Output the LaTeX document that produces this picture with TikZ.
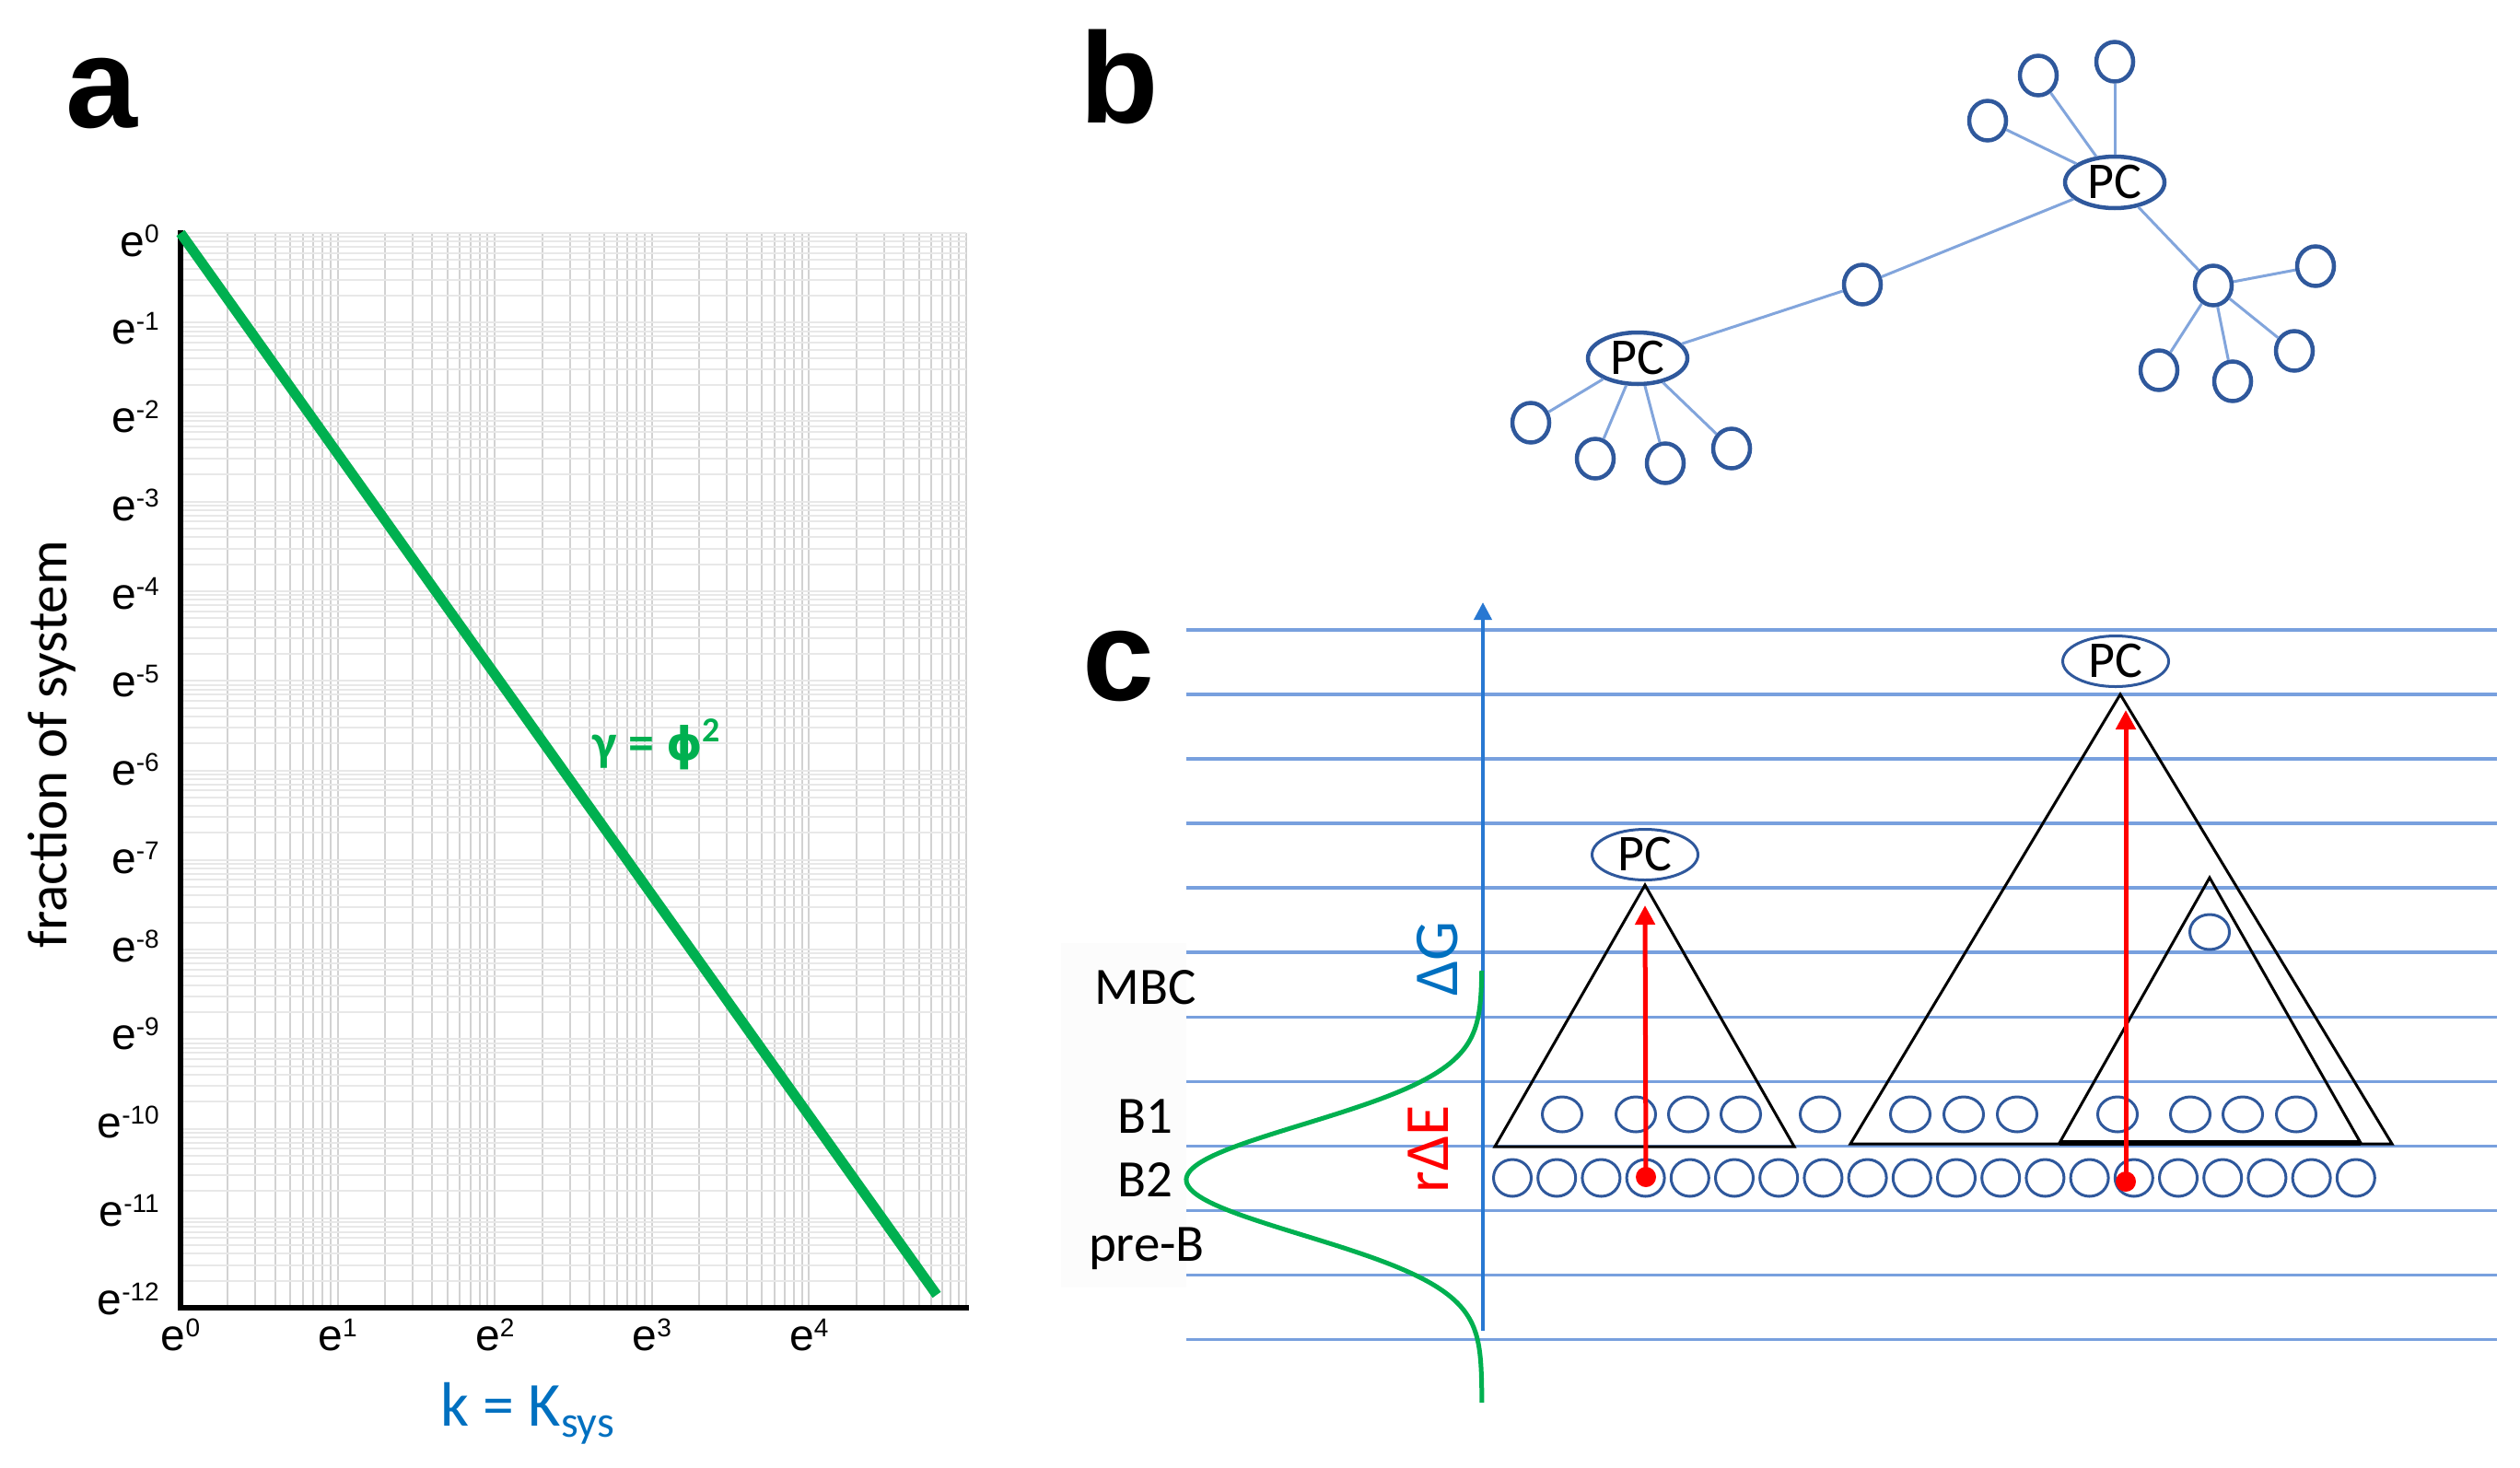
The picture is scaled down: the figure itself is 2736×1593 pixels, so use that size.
\documentclass[tikz,border=0pt]{standalone}
\usepackage{fontspec}
\setmainfont{Carlito}
\newfontfamily\arialf{Liberation Sans}
\newfontfamily\dejaf{DejaVu Sans}
\usetikzlibrary{shapes.geometric,arrows.meta}
\definecolor{gridv}{RGB}{210,210,210}
\definecolor{gridh}{RGB}{232,232,232}
\definecolor{plotgreen}{RGB}{0,176,80}
\definecolor{kblue}{RGB}{0,112,192}
\definecolor{nodeblue}{RGB}{47,88,156}
\definecolor{edgeblue}{RGB}{130,165,220}
\definecolor{hlblue}{RGB}{120,160,222}
\definecolor{axblue}{RGB}{40,120,210}
\newcommand\myfs[1]{\fontsize{#1}{#1}\selectfont}
\newcommand\elab[1]{{\arialf\myfs{48}e\raisebox{15pt}{\myfs{28}#1}}}
\tikzset{
  gv/.style={draw=gridv, line width=2pt},
  gh/.style={draw=gridh, line width=2pt},
  panel/.style={anchor=base west, inner sep=0pt, font=\arialf\bfseries\myfs{140}},
  smallb/.style={ellipse, draw=nodeblue, line width=4.5pt, minimum width=40pt, minimum height=43pt, inner sep=0pt},
  pcb/.style={ellipse, draw=nodeblue, line width=4.5pt, minimum width=108pt, minimum height=56pt, inner sep=0pt, font=\myfs{56}},
  edgeb/.style={draw=edgeblue, line width=3pt},
  hl/.style={draw=hlblue, line width=3.5pt},
  cone/.style={ellipse, draw=nodeblue, line width=3pt, minimum width=43pt, minimum height=38pt, inner sep=0pt},
  ctwo/.style={ellipse, draw=nodeblue, line width=3pt, minimum width=41pt, minimum height=40pt, inner sep=0pt},
  pcc/.style={ellipse, draw=nodeblue, line width=3pt, minimum width=115pt, minimum height=55pt, inner sep=0pt, font=\myfs{56}},
  tri/.style={draw=black, line width=3pt, line join=miter},
  redarrow/.style={draw=red, line width=5pt, -{Triangle[length=21pt,width=21pt]}},
  reddot/.style={circle, fill=red, inner sep=0pt, minimum size=22pt},
  lvl/.style={anchor=base, inner sep=0pt, font=\myfs{57}}
}
\begin{document}
\begin{tikzpicture}[x=1pt,y=-1pt]
\useasboundingbox (0,0) rectangle (2736,1593);
\fill[white] (0,0) rectangle (2736,1593);

% ---------------- panel a ----------------
\foreach \j in {0,...,4}{
  \foreach \k in {2,...,9}{
    \draw[gv] ({196+170.6*(\j+log10(\k))},253) -- ({196+170.6*(\j+log10(\k))},1420);
  }
}
\foreach \j in {1,...,5}{\draw[gv] ({196+170.6*\j},253) -- ({196+170.6*\j},1420);}
\foreach \n in {1,...,12}{
  \foreach \k in {2,...,9}{
    \draw[gh] (196,{253+97.25*(\n-log10(\k))}) -- (1049,{253+97.25*(\n-log10(\k))});
  }
}
\foreach \n in {0,...,11}{\draw[gh] (196,{253+97.25*\n}) -- (1049,{253+97.25*\n});}

\coordinate (ytop) at (196,250);
\coordinate (orig) at (196,1420);
\coordinate (xend) at (1052,1420);
\draw[black, line width=6pt] (ytop) -- (orig) -- (xend);
\coordinate (g0) at (196,253);
\coordinate (g1) at (1017,1406);
\draw[plotgreen, line width=11pt] (g0) -- (g1);

\foreach \n in {0,...,12}{
  \node[anchor=base east, inner sep=0pt] (yl\n) at (173,{278+95.75*\n}) {\elab{\ifnum\n=0 0\else -\n\fi}};
}
\foreach \j in {0,...,4}{
  \node[anchor=base, inner sep=0pt] (xl\j) at ({196+170.6*\j},1466) {\elab{\j}};
}
\node[rotate=90, inner sep=0pt, font=\myfs{61}] (ylabel) at (56,808) {fraction of system};
\node[text=plotgreen, inner sep=0pt, font=\bfseries\myfs{56}] (gam) at (713,808) {γ = {\dejaf\myfs{50}ϕ}\raisebox{20pt}{\myfs{38}2}};
\node[anchor=base west, inner sep=0pt, text=kblue, font=\myfs{68}] (klab) at (478,1548) {k = K\raisebox{-12pt}{\myfs{48}sys}};
\node[panel] (la) at (71,138) {a};

% ---------------- panel b ----------------
\node[panel] (lb) at (1172,133) {b};
\node[pcb] (pcA) at (1778,389) {PC};
\node[pcb] (pcB) at (2296,198) {PC};
\node[smallb] (mid) at (2022,309) {};
\node[smallb] (a1) at (1662,459) {};
\node[smallb] (a2) at (1732,498) {};
\node[smallb] (a3) at (1808,503) {};
\node[smallb] (a4) at (1880,487) {};
\node[smallb] (b1) at (2158,131) {};
\node[smallb] (b2) at (2213,82) {};
\node[smallb] (b3) at (2296,67) {};
\node[smallb] (hub) at (2403,310) {};
\node[smallb] (h1) at (2514,289) {};
\node[smallb] (h2) at (2344,402) {};
\node[smallb] (h3) at (2424,414) {};
\node[smallb] (h4) at (2491,381) {};
\draw[edgeb] (pcA) -- (mid);
\draw[edgeb] (mid) -- (pcB);
\foreach \t in {a1,a2,a3,a4}{\draw[edgeb] (pcA) -- (\t);}
\foreach \t in {b1,b2,b3,hub}{\draw[edgeb] (pcB) -- (\t);}
\foreach \t in {h1,h2,h3,h4}{\draw[edgeb] (hub) -- (\t);}

% ---------------- panel c ----------------
\node[panel] (lc) at (1175,760) {c};
\fill[black!1] (1152,1024) rectangle (1288,1398);
\foreach \i in {0,...,11}{\draw[hl] (1288,{684+70.04*\i}) -- (2711,{684+70.04*\i});}

\coordinate (axb) at (1610,1445);
\coordinate (axt) at (1610,654);
\draw[axblue, line width=4pt, -{Triangle[length=19pt,width=19pt]}] (axb) -- (axt);
\draw[plotgreen, line width=5pt] plot[domain=1054:1523, samples=200, variable=\t] ({1609-321*exp(-0.5*((\t-1281)/60)^2)}, \t);

\foreach \i in {0,...,19}{\node[ctwo] (bb\i) at ({1642+48.2*\i},1279) {};}
\foreach \x [count=\i] in {1696,1776,1833,1890,1976,2074,2132,2190,2299,2378,2435,2493}{\node[cone] (ba\i) at (\x,1210) {};}
\node[cone] (cin) at (2399,1012) {};

\coordinate (t1a) at (1786,961);
\coordinate (t1l) at (1623,1245);
\coordinate (t1r) at (1948,1245);
\coordinate (t2a) at (2302,754);
\coordinate (t2l) at (2009,1242);
\coordinate (t2r) at (2597,1242);
\coordinate (t3a) at (2399,953);
\coordinate (t3l) at (2236,1241);
\coordinate (t3r) at (2563,1241);
\draw[tri] (t1a) -- (t1l) -- (t1r) -- cycle;
\draw[tri] (t2a) -- (t2l) -- (t2r) -- cycle;
\draw[tri] (t3a) -- (t3l) -- (t3r) -- cycle;
\draw[black, line width=6pt] (t3l) -- (t3r);

\node[pcc] (pc1) at (1786,928) {PC};
\node[pcc] (pc2) at (2297,718) {PC};

\node[reddot] (d1) at (1787,1278) {};
\coordinate (r1) at (1786,983);
\draw[redarrow] (d1.center) -- (r1);
\node[reddot] (d2) at (2308,1283) {};
\coordinate (r2) at (2308,771);
\draw[redarrow] (d2.center) -- (r2);

\node[lvl] (mbc) at (1244,1090) {MBC};
\node[lvl] (lb1) at (1243,1230) {B1};
\node[lvl] (lb2) at (1243,1299) {B2};
\node[lvl] (lpre) at (1245,1369) {pre-B};
\node[rotate=90, anchor=base, inner sep=0pt, text=kblue, font=\myfs{68}] (dg) at (1582,1041) {ΔG};
\node[rotate=90, anchor=base, inner sep=0pt, text=red, font=\myfs{68}] (re) at (1572,1248) {rΔE};
\end{tikzpicture}
\end{document}
